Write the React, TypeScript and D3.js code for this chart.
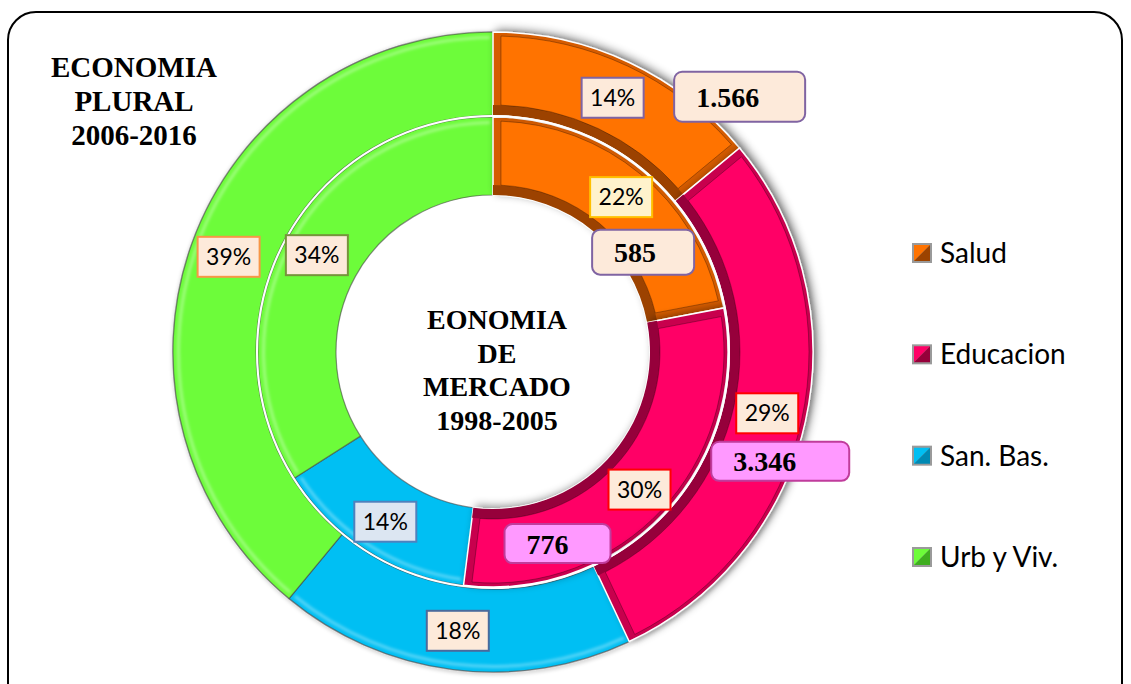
import React from 'react';
import * as d3 from 'd3';

// ---------- data ----------
const categories = ['Salud', 'Educacion', 'San. Bas.', 'Urb y Viv.'];
const pluralPct = [14, 29, 18, 39]; // outer ring: Economia Plural 2006-2016
const mercadoPct = [22, 30, 14, 34]; // inner ring: Economia de Mercado 1998-2005
const pluralAmounts = ['1.566', '3.346', '', ''];
const mercadoAmounts = ['585', '776', '', ''];
const pluralTitle = ['ECONOMIA', 'PLURAL', '2006-2016'];
const mercadoTitle = ['EONOMIA', 'DE', 'MERCADO', '1998-2005'];

// ---------- layout / style ----------
const W = 1131;
const H = 684;
const CX = 493;
const CY = 352;
const OUTER = { r0: 237, r1: 320, label: 281 };
const INNER = { r0: 157, r1: 235, label: 201 };

const mainColors = ['#ff7300', '#ff0066', '#00bff3', '#6dfc3a'];
const midColors = ['#d65c00', '#c8004e', '#0089b3', '#3fae1f'];
const darkColors = ['#9c4300', '#96003a', '#0089b3', '#3fae1f'];
const bevel = [true, true, false, false];

const outerPctStyle = [
  { stroke: '#8064a2', fill: '#fdeada' },
  { stroke: '#ff0000', fill: '#fdeada' },
  { stroke: '#4a6a9c', fill: '#fdeada' },
  { stroke: '#f79646', fill: '#fdeada' },
];
const innerPctStyle = [
  { stroke: '#ffc000', fill: '#fff2cc' },
  { stroke: '#ff0000', fill: '#fdeada' },
  { stroke: '#4f81bd', fill: '#dce6f2' },
  { stroke: '#77933c', fill: '#fdeada' },
];
const outerAmtStyle = [
  { w: 131, h: 50, dx: 127, dy: -1, fill: '#fdeada', stroke: '#8064a2' },
  { w: 138, h: 39, dx: 13, dy: 48, fill: '#ff99ff', stroke: '#c03c9c' },
];
const innerAmtStyle = [
  { w: 102, h: 45, dx: 22, dy: 55, fill: '#fdeada', stroke: '#8064a2' },
  { w: 106, h: 39, dx: -82, dy: 54, fill: '#ff99ff', stroke: '#c03c9c' },
];

const serif = '"Liberation Serif", "Times New Roman", serif';
const sans = 'Lato, "Open Sans", sans-serif';

type Ring = { r0: number; r1: number; label: number };

function RingSlices({ values, ring, pass }: { values: number[]; ring: Ring; pass: 'flat' | 'bevel' }) {
  const pie = d3.pie<number>().sort(null).value((d) => d).startAngle(0).endAngle(2 * Math.PI);
  const arcs = pie(values);
  const full = d3.arc<d3.PieArcDatum<number>>().innerRadius(ring.r0).outerRadius(ring.r1);
  const innerBand = d3.arc<d3.PieArcDatum<number>>().innerRadius(ring.r0).outerRadius(ring.r0 + 10);
  const inset = d3
    .arc<d3.PieArcDatum<number>>()
    .innerRadius(ring.r0 + 10)
    .outerRadius(ring.r1 - 4)
    .padRadius(100)
    .padAngle(0.16);
  const hi = d3
    .arc<d3.PieArcDatum<number>>()
    .innerRadius(ring.r1 - 7)
    .outerRadius(ring.r1 - 4)
    .padRadius(100)
    .padAngle(0.06);
  return (
    <g>
      {arcs.map((a, i) => {
        if (bevel[i] !== (pass === 'bevel')) return null;
        if (bevel[i]) {
          return (
            <g key={i} filter="url(#shadow)">
              <path d={full(a) || ''} fill={midColors[i]} stroke="#ffffff" strokeWidth={1.5} />
              <path d={innerBand(a) || ''} fill={darkColors[i]} />
              <path d={inset(a) || ''} fill={mainColors[i]} stroke="rgba(0,0,0,0.3)" strokeWidth={1} />
            </g>
          );
        }
        return (
          <g key={i}>
            <path d={full(a) || ''} fill={mainColors[i]} stroke="rgba(70,70,70,0.6)" strokeWidth={1.2} />
            <path d={hi(a) || ''} fill="rgba(255,255,255,0.35)" filter="url(#soft)" />
          </g>
        );
      })}
    </g>
  );
}

function PctLabels({ values, ring, styles, amounts, amtStyles }: any) {
  const pie = d3.pie<number>().sort(null).value((d) => d).startAngle(0).endAngle(2 * Math.PI);
  const arcs = pie(values);
  const lab = d3.arc<d3.PieArcDatum<number>>().innerRadius(ring.label).outerRadius(ring.label);
  return (
    <g>
      {arcs.map((a, i) => {
        const [x, y] = lab.centroid(a);
        const s = styles[i];
        const amt = amounts[i];
        const as = amtStyles[i];
        return (
          <g key={i}>
            <rect x={x - 31} y={y - 20} width={62} height={40} fill={s.fill} stroke={s.stroke} strokeWidth={2} />
            <text x={x} y={y + 8} textAnchor="middle" fontFamily={sans} fontSize={23} fill="#000">
              {`${values[i]}%`}
            </text>
            {amt && as ? (
              <g>
                <rect
                  x={x + as.dx - as.w / 2}
                  y={y + as.dy - as.h / 2}
                  width={as.w}
                  height={as.h}
                  rx={8}
                  fill={as.fill}
                  stroke={as.stroke}
                  strokeWidth={2}
                />
                <text
                  x={x + as.dx - as.w / 2 + 22}
                  y={y + as.dy + 10}
                  fontFamily={serif}
                  fontWeight="bold"
                  fontSize={28}
                  fill="#000"
                >
                  {amt}
                </text>
              </g>
            ) : null}
          </g>
        );
      })}
    </g>
  );
}

export default function App() {
  const legendY = d3.scalePoint<string>().domain(categories).range([253, 557]);
  return (
    <svg
      width={W}
      height={H}
      viewBox={`0 0 ${W} ${H}`}
      style={{ position: 'absolute', left: 0, top: 0, background: '#fff' }}
    >
      <defs>
        <filter id="shadow" x="-30%" y="-30%" width="160%" height="160%">
          <feDropShadow dx={4} dy={-2} stdDeviation={4} floodColor="#000" floodOpacity={0.45} />
        </filter>
        <filter id="soft" x="-10%" y="-10%" width="120%" height="120%">
          <feGaussianBlur stdDeviation={1.5} />
        </filter>
        <filter id="ringShadow" x="-10%" y="-10%" width="120%" height="120%">
          <feDropShadow dx={1} dy={1} stdDeviation={2} floodColor="#000" floodOpacity={0.35} />
        </filter>
      </defs>
      <rect x={0} y={0} width={W} height={H} fill="#fff" />
      <rect x={8} y={12} width={1114} height={700} rx={28} fill="none" stroke="#000" strokeWidth={2} />

      <g transform={`translate(${CX},${CY})`}>
        <circle r={OUTER.r1} fill="none" stroke="#bbb" strokeWidth={2} filter="url(#ringShadow)" />
        <RingSlices values={pluralPct} ring={OUTER} pass="flat" />
        <RingSlices values={mercadoPct} ring={INNER} pass="flat" />
        <RingSlices values={mercadoPct} ring={INNER} pass="bevel" />
        <RingSlices values={pluralPct} ring={OUTER} pass="bevel" />
        <circle r={(OUTER.r0 + INNER.r1) / 2} fill="none" stroke="#ffffff" strokeWidth={2} />
        <PctLabels values={pluralPct} ring={OUTER} styles={outerPctStyle} amounts={pluralAmounts} amtStyles={outerAmtStyle} />
        <PctLabels values={mercadoPct} ring={INNER} styles={innerPctStyle} amounts={mercadoAmounts} amtStyles={innerAmtStyle} />
      </g>

      <g fontFamily={serif} fontWeight="bold" fontSize={29} fill="#000" textAnchor="middle">
        {pluralTitle.map((t, i) => (
          <text key={t} x={134} y={77 + i * 34}>
            {t}
          </text>
        ))}
      </g>
      <g fontFamily={serif} fontWeight="bold" fontSize={28} fill="#000" textAnchor="middle">
        {mercadoTitle.map((t, i) => (
          <text key={t} x={497} y={329 + i * 33.5}>
            {t}
          </text>
        ))}
      </g>

      <g>
        {categories.map((c, i) => {
          const y = legendY(c) as number;
          const x0 = 912;
          const s = 20;
          return (
            <g key={c}>
              <rect x={x0} y={y - s / 2} width={s} height={s} fill="#9a9a9a" />
              <path
                d={`M${x0 + 2},${y - s / 2 + 2} L${x0 + s - 2},${y - s / 2 + 2} L${x0 + 2},${y + s / 2 - 2} Z`}
                fill={mainColors[i]}
              />
              <path
                d={`M${x0 + s - 2},${y - s / 2 + 2} L${x0 + s - 2},${y + s / 2 - 2} L${x0 + 2},${y + s / 2 - 2} Z`}
                fill={darkColors[i]}
              />
              <text x={940} y={y + 10} fontFamily={sans} fontSize={28} fill="#000">
                {c}
              </text>
            </g>
          );
        })}
      </g>
    </svg>
  );
}
